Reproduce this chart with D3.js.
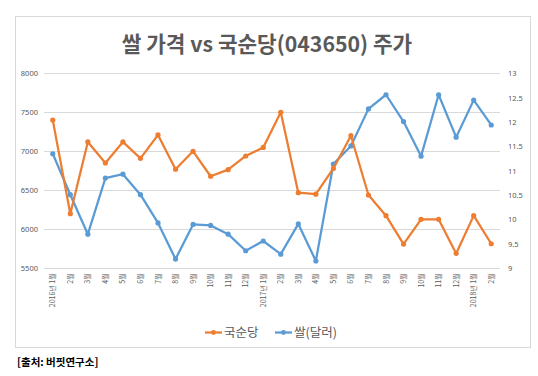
<!DOCTYPE html>
<html>
<head>
<meta charset="utf-8">
<script src="https://cdn.jsdelivr.net/npm/d3@7"></script>
<style>
  body { margin: 0; background: #fff; }
  svg { display: block; font-family: "Noto Sans CJK KR", "Noto Sans", sans-serif; }
</style>
</head>
<body>
<div id="chart"></div>
<script>
// 월별 라벨
const months = [
  "2016년 1월", "2월", "3월", "4월", "5월", "6월", "7월", "8월", "9월", "10월", "11월", "12월",
  "2017년 1월", "2월", "3월", "4월", "5월", "6월", "7월", "8월", "9월", "10월", "11월", "12월",
  "2018년 1월", "2월"
];
// 국순당 주가 (왼쪽 축)
const stockPrice = [
  7400, 6200, 7120, 6850, 7120, 6910, 7210, 6770, 7000, 6680, 6765, 6940,
  7050, 7500, 6470, 6450, 6780, 7200, 6440, 6175, 5810, 6128, 6128, 5690,
  6175, 5815
];
// 쌀 가격 (달러, 오른쪽 축)
const ricePrice = [
  11.35, 10.51, 9.70, 10.85, 10.93, 10.51, 9.93, 9.19, 9.90, 9.88, 9.70, 9.36,
  9.56, 9.29, 9.91, 9.15, 11.14, 11.51, 12.27, 12.56, 12.01, 11.30, 12.56, 11.69,
  12.45, 11.94
];
const leftTicks = [5500, 6000, 6500, 7000, 7500, 8000];
const rightTicks = [9, 9.5, 10, 10.5, 11, 11.5, 12, 12.5, 13];
const seriesNames = ["국순당", "쌀(달러)"];

const W = 538, H = 376;
const plot = { left: 44, right: 500, top: 73.3, bottom: 268.3 };
const orange = "#ED7D31", blue = "#5B9BD5", textGray = "#595959";

const svg = d3.select("#chart").append("svg")
  .attr("width", W)
  .attr("height", H);

// 차트 테두리
svg.append("rect")
  .attr("x", 15.5).attr("y", 16.5)
  .attr("width", 515).attr("height", 331)
  .attr("fill", "#fff")
  .attr("stroke", "#d9d9d9");

// 제목
svg.append("text")
  .attr("x", 267).attr("y", 51.5)
  .attr("text-anchor", "middle")
  .attr("font-size", "21.3px")
  .attr("font-weight", "bold")
  .attr("fill", textGray)
  .text("쌀 가격 vs 국순당(043650) 주가");

const x = d3.scaleBand()
  .domain(months.map((m, i) => i))
  .range([plot.left, plot.right]);

const yL = d3.scaleLinear().domain([5500, 8000]).range([plot.bottom, plot.top]);
const yR = d3.scaleLinear().domain([9, 13]).range([plot.bottom, plot.top]);

// 격자선
svg.append("g")
  .selectAll("line")
  .data(leftTicks)
  .join("line")
  .attr("x1", plot.left).attr("x2", plot.right)
  .attr("y1", d => Math.round(yL(d)) + 0.5)
  .attr("y2", d => Math.round(yL(d)) + 0.5)
  .attr("stroke", "#d9d9d9")
  .attr("stroke-width", 1);

// 왼쪽 축
const leftAxis = svg.append("g")
  .attr("transform", `translate(${plot.left - 6},0)`)
  .call(d3.axisLeft(yL).tickValues(leftTicks).tickSize(0).tickPadding(0).tickFormat(d3.format("d")));
leftAxis.select(".domain").remove();
leftAxis.selectAll("text")
  .attr("fill", textGray)
  .attr("font-size", "7.5px")
  .attr("font-family", "'Noto Sans', sans-serif");

// 오른쪽 축
const rightAxis = svg.append("g")
  .attr("transform", `translate(${plot.right + 8},0)`)
  .call(d3.axisRight(yR).tickValues(rightTicks).tickSize(0).tickPadding(0).tickFormat(d => d));
rightAxis.select(".domain").remove();
rightAxis.selectAll("text")
  .attr("fill", textGray)
  .attr("font-size", "7.5px")
  .attr("font-family", "'Noto Sans', sans-serif");

// x축 라벨 (세로)
svg.append("g")
  .selectAll("text")
  .data(months)
  .join("text")
  .attr("transform", (d, i) => `translate(${x(i) + x.bandwidth() / 2 + 2.5},${plot.bottom + 5}) rotate(-90)`)
  .attr("text-anchor", "end")
  .attr("font-size", "7px")
  .attr("fill", textGray)
  .text(d => d);

// 선
function drawSeries(values, yScale, color) {
  const line = d3.line()
    .x((d, i) => x(i) + x.bandwidth() / 2)
    .y(d => yScale(d));
  svg.append("path")
    .datum(values)
    .attr("d", line)
    .attr("fill", "none")
    .attr("stroke", color)
    .attr("stroke-width", 2.25)
    .attr("stroke-linejoin", "round");
  svg.append("g")
    .selectAll("circle")
    .data(values)
    .join("circle")
    .attr("cx", (d, i) => x(i) + x.bandwidth() / 2)
    .attr("cy", d => yScale(d))
    .attr("r", 2.6)
    .attr("fill", color);
}
drawSeries(ricePrice, yR, blue);
drawSeries(stockPrice, yL, orange);

// 범례
const legend = svg.append("g").attr("transform", "translate(205,337)");
const legendItems = [
  { name: seriesNames[0], color: orange, x: 0 },
  { name: seriesNames[1], color: blue, x: 70 }
];
legendItems.forEach(it => {
  const g = legend.append("g").attr("transform", `translate(${it.x},0)`);
  g.append("line").attr("x1", 0).attr("x2", 17).attr("y1", -4.5).attr("y2", -4.5)
    .attr("stroke", it.color).attr("stroke-width", 2.25);
  g.append("circle").attr("cx", 8.5).attr("cy", -4.5).attr("r", 2.4).attr("fill", it.color);
  g.append("text").attr("x", 19).attr("y", 0)
    .attr("font-size", "12.5px").attr("fill", textGray).text(it.name);
});

// 출처
svg.append("text")
  .attr("x", 17).attr("y", 366)
  .attr("font-size", "10.5px")
  .attr("font-weight", "bold")
  .attr("fill", "#000")
  .text("[출처: 버핏연구소]");
</script>
</body>
</html>
